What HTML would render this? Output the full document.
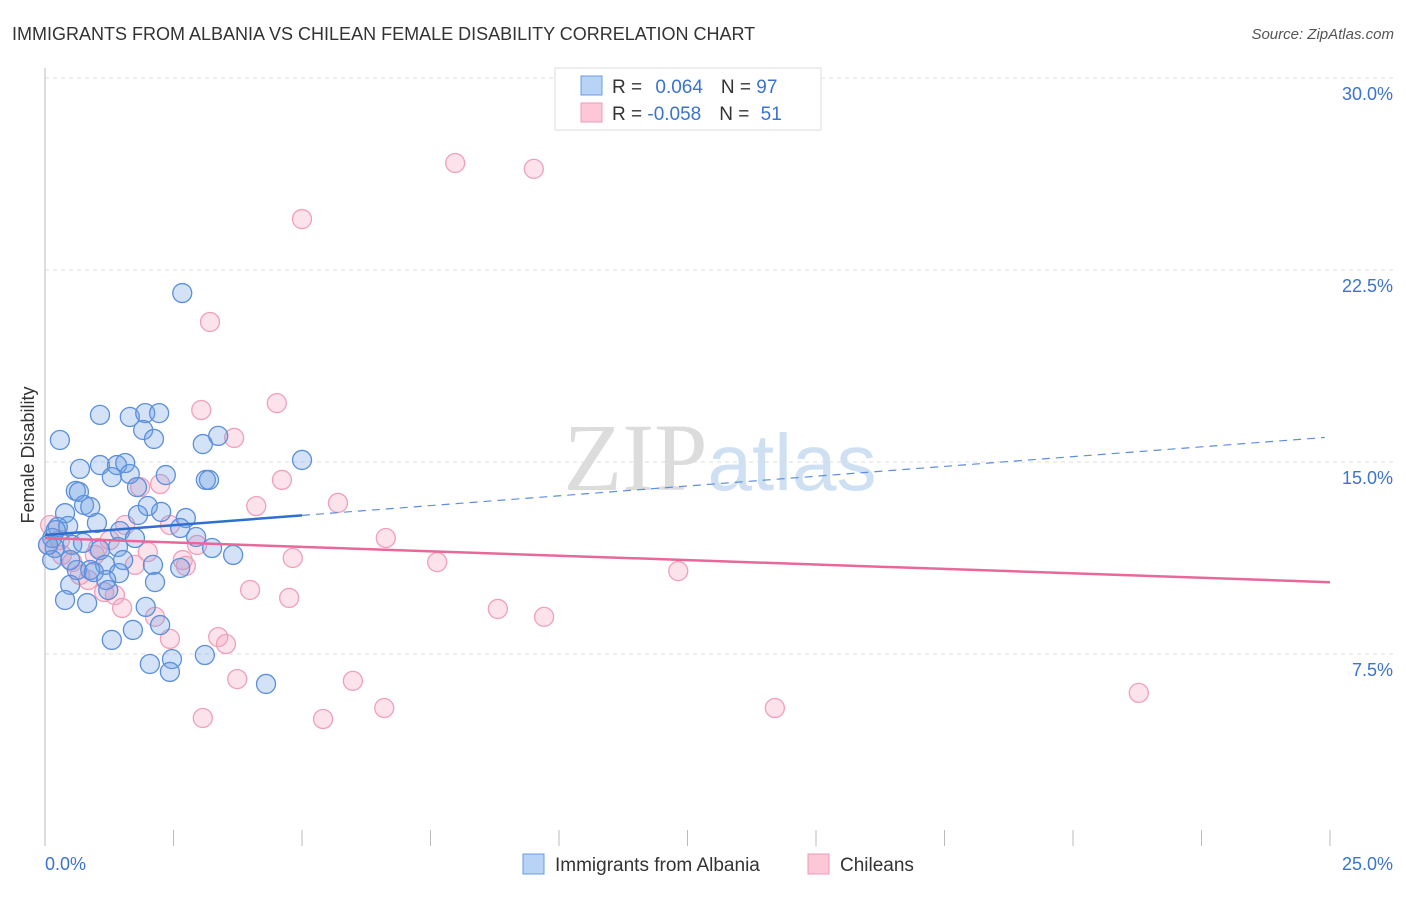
<!DOCTYPE html>
<html><head><meta charset="utf-8"><style>
body{margin:0;background:#fff;font-family:"Liberation Sans",sans-serif;}
svg text{font-family:"Liberation Sans",sans-serif;}
</style></head><body>
<svg id="chart" width="1406" height="892" xmlns="http://www.w3.org/2000/svg">
<text x="12" y="40" font-size="18" fill="#333">IMMIGRANTS FROM ALBANIA VS CHILEAN FEMALE DISABILITY CORRELATION CHART</text>
<text x="1394" y="39" font-size="15" fill="#555" font-style="italic" text-anchor="end">Source: ZipAtlas.com</text>
<text x="720" y="490" font-size="96" text-anchor="middle" fill="#e4e4e4"><tspan font-family="Liberation Serif" fill="#dcdcdc">ZIP</tspan><tspan fill="#cfe0f3" font-size="80">atlas</tspan></text>
<g id="grid"></g>
<g id="axes"></g>
<g id="pts"></g>
<g id="trends"></g>
<text transform="translate(34,455) rotate(-90)" font-size="18" fill="#333" text-anchor="middle">Female Disability</text>
<g>
<rect x="555" y="68" width="266" height="62" fill="#fff" stroke="#ddd"/>
<rect x="581" y="76" width="21" height="19" fill="#b8d3f5" stroke="#6a9be0"/>
<rect x="581" y="103" width="21" height="19" fill="#fcc8d8" stroke="#ef9ab5"/>
<text x="612" y="93" font-size="19" fill="#333">R = <tspan fill="#3b73d1" dx="8">0.064</tspan><tspan dx="18" fill="#333">N = </tspan><tspan fill="#3b73d1">97</tspan></text>
<text x="612" y="120" font-size="19" fill="#333">R = <tspan fill="#3b73d1">-0.058</tspan><tspan dx="18" fill="#333">N = </tspan><tspan fill="#3b73d1" dx="6">51</tspan></text>
</g>
<g>
<rect x="523" y="854" width="21" height="20" fill="#b8d3f5" stroke="#6a9be0"/>
<text x="555" y="871" font-size="19" fill="#333">Immigrants from Albania</text>
<rect x="808" y="854" width="21" height="20" fill="#fcc8d8" stroke="#ef9ab5"/>
<text x="840" y="871" font-size="19" fill="#333">Chileans</text>
</g>
</svg>
<script>
const yTicks=[7.5,15,22.5,30];
const yTickLabels=["7.5%","15.0%","22.5%","30.0%"];
const xTickCount=10;
const blueX=[2.67,1.07,1.65,1.95,2.22,0.29,1.91,2.12,3.37,3.07,0.68,1.07,1.40,1.56,1.65,1.30,2.35,1.79,3.13,3.19,5.0,0.60,0.66,0.76,0.88,2.0,2.26,2.74,1.81,0.39,1.01,0.45,1.46,2.63,0.25,0.14,0.19,0.53,0.74,1.07,1.42,1.75,2.94,3.25,3.66,1.52,2.10,2.63,1.17,0.88,0.62,0.49,0.95,1.44,1.19,2.14,0.49,1.23,1.96,0.39,0.82,2.24,1.71,1.30,2.04,2.47,3.11,2.43,4.30,0.14,0.06,0.21];
const blueY=[21.6,16.84,16.76,16.91,16.91,15.86,16.25,15.9,16.02,15.7,14.73,14.88,14.88,14.96,14.53,14.41,14.49,14.02,14.3,14.3,15.08,13.87,13.83,13.32,13.24,13.28,13.05,12.81,12.93,13.0,12.62,12.5,12.3,12.42,12.46,12.03,11.64,11.76,11.84,11.56,11.68,12.03,12.07,11.64,11.37,11.17,10.98,10.86,10.98,10.78,10.78,11.17,10.70,10.66,10.39,10.31,10.2,10.0,9.34,9.61,9.49,8.63,8.44,8.05,7.11,7.3,7.46,6.8,6.33,11.17,11.76,12.34];
const pinkX=[7.98,9.51,5.0,3.21,4.51,3.04,3.68,4.61,5.70,4.11,6.63,7.63,4.82,12.32,8.81,9.71,3.99,4.75,3.37,3.52,2.43,3.74,5.99,6.60,14.2,21.28,3.07,5.41,1.56,0.29,0.53,0.97,2.0,1.36,1.15,2.68,2.74,2.24,1.26,2.14,0.68,2.43,2.96,0.1,0.06,1.75,0.33,0.84,1.50,1.85,1.03];
const pinkY=[26.68,26.45,24.49,20.47,17.3,17.03,15.94,14.3,13.4,13.28,12.03,11.09,11.25,10.74,9.26,8.95,10.0,9.69,8.16,7.89,8.09,6.52,6.45,5.39,5.39,5.98,5.0,4.96,12.54,11.95,11.09,11.37,11.48,9.8,9.92,11.17,10.94,14.14,11.95,8.95,10.59,12.54,11.76,12.54,11.76,10.98,11.37,10.39,9.3,14.02,11.64];
const blueTrend=[12.15,0.153];
const pinkTrend=[12.03,-0.069];
const NS="http://www.w3.org/2000/svg";
const X0=45,X1=1330,Y0=846,PXY=25.6;
const sx=v=>X0+(X1-X0)*v/25;
const sy=v=>Y0-v*PXY;
function mk(tag,attrs,parent){const e=document.createElementNS(NS,tag);for(const k in attrs)e.setAttribute(k,attrs[k]);parent.appendChild(e);return e;}
const grid=document.getElementById('grid'),axes=document.getElementById('axes'),pts=document.getElementById('pts'),tr=document.getElementById('trends');
yTicks.forEach((t,i)=>{
 const l=mk('line',{x1:45,x2:1394,y1:sy(t),y2:sy(t),stroke:'#ddd','stroke-dasharray':'4,4'},grid);
 
 
 const tx=mk('text',{x:1393,y:sy(t)+22,'font-size':18,fill:'#3b73d1','text-anchor':'end'},axes);
 tx.textContent=yTickLabels[i];
 
 
});
const ya=mk('line',{x1:45,x2:45,y1:68,y2:846,stroke:'#bbb'},axes);


for(let i=0;i<=xTickCount;i++){
 const x=sx(25*i/xTickCount);
 const t=mk('line',{x1:x,x2:x,y1:830,y2:846,stroke:'#bbb'},axes);
 
 
}
const xl0=mk('text',{x:45,y:870,'font-size':18,fill:'#3b73d1'},axes);xl0.textContent='0.0%';


const xl1=mk('text',{x:1393,y:870,'font-size':18,fill:'#3b73d1','text-anchor':'end'},axes);xl1.textContent='25.0%';


function dots(xs,ys,fill,stroke,name){xs.forEach((v,i)=>{
 const c=mk('circle',{cx:sx(v),cy:sy(ys[i]),r:9.5,fill:fill,stroke:stroke,'stroke-width':1.3},pts);
 
 
});}
dots(pinkX,pinkY,'rgba(245,160,190,0.3)','#f0a0b9','chileans-point');
dots(blueX,blueY,'rgba(110,160,230,0.3)','#5c8fdc','albania-point');
const b1=mk('line',{x1:sx(0),y1:sy(blueTrend[0]),x2:sx(5),y2:sy(blueTrend[0]+blueTrend[1]*5),stroke:'#2f6fd0','stroke-width':2.5},tr);


const b2=mk('line',{x1:sx(5),y1:sy(blueTrend[0]+blueTrend[1]*5),x2:sx(24.9),y2:sy(blueTrend[0]+blueTrend[1]*24.9),stroke:'#5c8fdc','stroke-width':1.2,'stroke-dasharray':'8,6'},tr);


const p1=mk('line',{x1:sx(0),y1:sy(pinkTrend[0]),x2:sx(25),y2:sy(pinkTrend[0]+pinkTrend[1]*25),stroke:'#e8689a','stroke-width':2.5},tr);


</script>
</body></html>
